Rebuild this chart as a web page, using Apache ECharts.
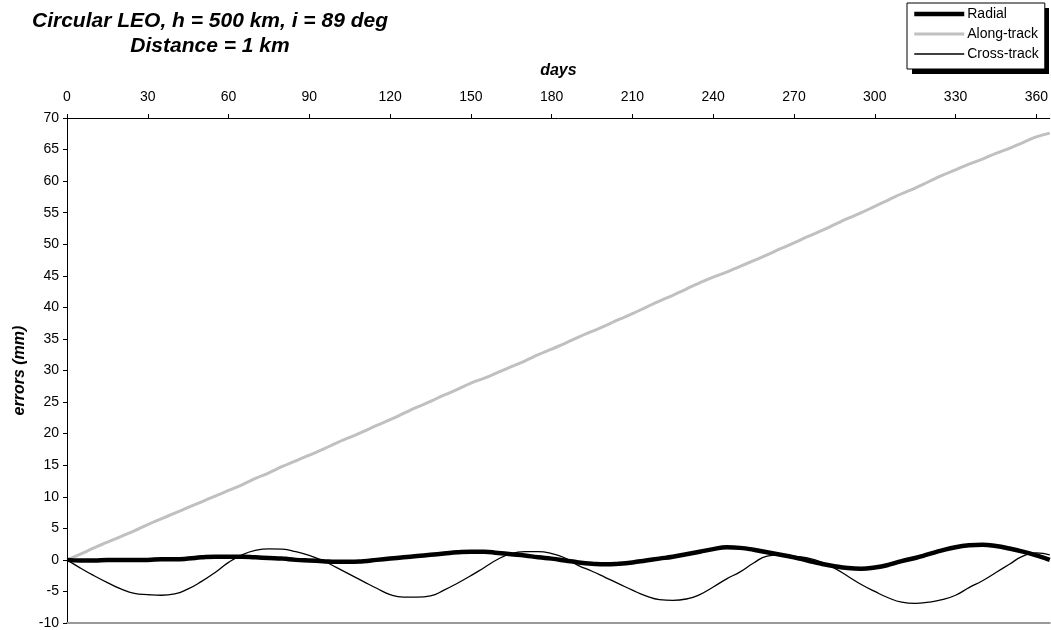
<!DOCTYPE html>
<html>
<head>
<meta charset="utf-8">
<script src="https://cdn.jsdelivr.net/npm/echarts@6/dist/echarts.min.js"></script>
<style>html,body{margin:0;padding:0;background:#fff}#c{width:1051px;height:630px}</style>
</head>
<body>
<div id="c"></div>
<script>
const days = [0,5,10,15,20,25,30,35,40,45,50,55,60,65,70,75,80,85,90,95,100,105,110,115,120,125,130,135,140,145,150,155,160,165,170,175,180,185,190,195,200,205,210,215,220,225,230,235,240,245,250,255,260,265,270,275,280,285,290,295,300,305,310,315,320,325,330,335,340,345,350,355,360,365];
const radial = [0,-0.1,-0.1,0,0,0,0,0.1,0.1,0.2,0.4,0.5,0.5,0.5,0.4,0.3,0.2,0,-0.1,-0.2,-0.3,-0.3,-0.2,0,0.2,0.4,0.6,0.8,1.0,1.2,1.3,1.3,1.1,0.9,0.7,0.4,0.2,-0.1,-0.4,-0.6,-0.7,-0.6,-0.4,-0.1,0.2,0.5,0.9,1.3,1.7,2.0,1.9,1.6,1.2,0.8,0.4,-0.1,-0.6,-1.0,-1.3,-1.4,-1.2,-0.8,-0.2,0.3,0.9,1.5,2.0,2.3,2.4,2.2,1.8,1.3,0.7,0.0];
const alongTrack = [0,0.9,1.9,2.8,3.7,4.6,5.6,6.5,7.4,8.3,9.2,10.1,11.0,11.9,12.9,13.8,14.8,15.7,16.6,17.5,18.5,19.4,20.3,21.3,22.2,23.2,24.2,25.1,26.1,27.0,28.0,28.8,29.7,30.6,31.5,32.5,33.4,34.3,35.3,36.2,37.1,38.1,39.0,40.0,41.0,41.9,42.9,43.9,44.8,45.6,46.5,47.4,48.3,49.3,50.2,51.2,52.1,53.1,54.1,55.0,56.0,57.0,58.0,58.9,59.9,60.9,61.8,62.7,63.5,64.4,65.2,66.1,67.0,67.6];
const crossTrack = [0,-1.3,-2.5,-3.6,-4.6,-5.3,-5.5,-5.6,-5.4,-4.6,-3.4,-2.0,-0.4,0.8,1.5,1.75,1.7,1.3,0.7,-0.1,-1.2,-2.3,-3.4,-4.5,-5.5,-5.9,-5.9,-5.7,-4.8,-3.7,-2.5,-1.2,0.1,1.0,1.3,1.3,1.0,0.3,-0.9,-1.8,-2.8,-3.8,-4.8,-5.7,-6.3,-6.4,-6.2,-5.5,-4.3,-3.0,-1.9,-0.5,0.6,0.8,0.6,0.3,-0.3,-1.3,-2.6,-3.9,-5.0,-6.0,-6.7,-6.9,-6.7,-6.3,-5.6,-4.4,-3.3,-2.0,-0.7,0.6,1.1,0.8];
const titleLines = ['Circular LEO, h = 500 km, i = 89 deg', 'Distance = 1 km'];
const seriesNames = ['Radial', 'Along-track', 'Cross-track'];

const pair = (vals) => days.map((d, i) => [d, vals[i]]);
const font = 'Liberation Sans, Arial, sans-serif';
const styles = {
  'Radial': {color: '#000', width: 4.5},
  'Along-track': {color: '#c0c0c0', width: 3},
  'Cross-track': {color: '#000', width: 1.3}
};

const chart = echarts.init(document.getElementById('c'), null, {renderer: 'canvas'});
chart.setOption({
  animation: false,
  backgroundColor: '#fff',
  title: {
    text: titleLines.join('\n'),
    left: 205, top: 4, textAlign: 'center',
    textStyle: {fontFamily: font, fontSize: 21, fontWeight: 'bold', fontStyle: 'italic', color: '#000', lineHeight: 25}
  },
  graphic: [{
    type: 'rect', left: 912, top: 8, z: 0, silent: true,
    shape: {width: 137, height: 66},
    style: {fill: '#000'}
  }],
  legend: {
    orient: 'vertical', left: 907, top: 3, z: 10,
    padding: [4, 6, 8, 5], itemGap: 6, itemWidth: 50, itemHeight: 14,
    backgroundColor: '#fff', borderColor: '#000', borderWidth: 1, borderRadius: 0,
    itemStyle: {color: 'rgba(0,0,0,0)', borderColor: 'rgba(0,0,0,0)', borderWidth: 0},
    textStyle: {fontFamily: font, fontSize: 14, color: '#000', padding: [0,0,0,-2]},
    data: seriesNames.map(n => ({name: n, lineStyle: {color: styles[n].color, width: styles[n].width}}))
  },
  grid: {left: 67, right: 0, top: 118, bottom: 6, containLabel: false},
  xAxis: [{
    type: 'value', position: 'top', min: 0, max: 365, interval: 30,
    name: 'days', nameLocation: 'middle', nameGap: 39,
    nameTextStyle: {fontFamily: font, fontSize: 16, fontWeight: 'bold', fontStyle: 'italic', color: '#000'},
    axisLine: {show: true, onZero: false, lineStyle: {color: '#000', width: 1}},
    axisTick: {show: true, inside: false, length: 4, lineStyle: {color: '#000'}},
    axisLabel: {fontFamily: font, fontSize: 14, color: '#000', margin: 14, showMaxLabel: false},
    splitLine: {show: false}
  }, {
    type: 'value', position: 'bottom', min: 0, max: 365,
    axisLine: {show: true, onZero: false, lineStyle: {color: '#999', width: 2}},
    axisTick: {show: false}, axisLabel: {show: false}, splitLine: {show: false}
  }],
  yAxis: {
    type: 'value', min: -10, max: 70, interval: 5,
    name: 'errors (mm)', nameLocation: 'middle', nameGap: 37, nameRotate: 90,
    nameTextStyle: {fontFamily: font, fontSize: 16, fontWeight: 'bold', fontStyle: 'italic', color: '#000'},
    axisLine: {show: true, onZero: false, lineStyle: {color: '#000', width: 1}},
    axisTick: {show: true, length: 4, lineStyle: {color: '#000'}},
    axisLabel: {fontFamily: font, fontSize: 14, color: '#000', margin: 8},
    splitLine: {show: false}
  },
  series: [
    {name: seriesNames[1], type: 'line', data: pair(alongTrack), symbol: 'none', smooth: true, z: 2,
     lineStyle: styles['Along-track'], itemStyle: {color: '#c0c0c0'}},
    {name: seriesNames[0], type: 'line', data: pair(radial), symbol: 'none', smooth: true, z: 3,
     lineStyle: styles['Radial'], itemStyle: {color: '#000'}},
    {name: seriesNames[2], type: 'line', data: pair(crossTrack), symbol: 'none', smooth: true, z: 4,
     lineStyle: styles['Cross-track'], itemStyle: {color: '#000'}}
  ]
});
</script>
</body>
</html>
